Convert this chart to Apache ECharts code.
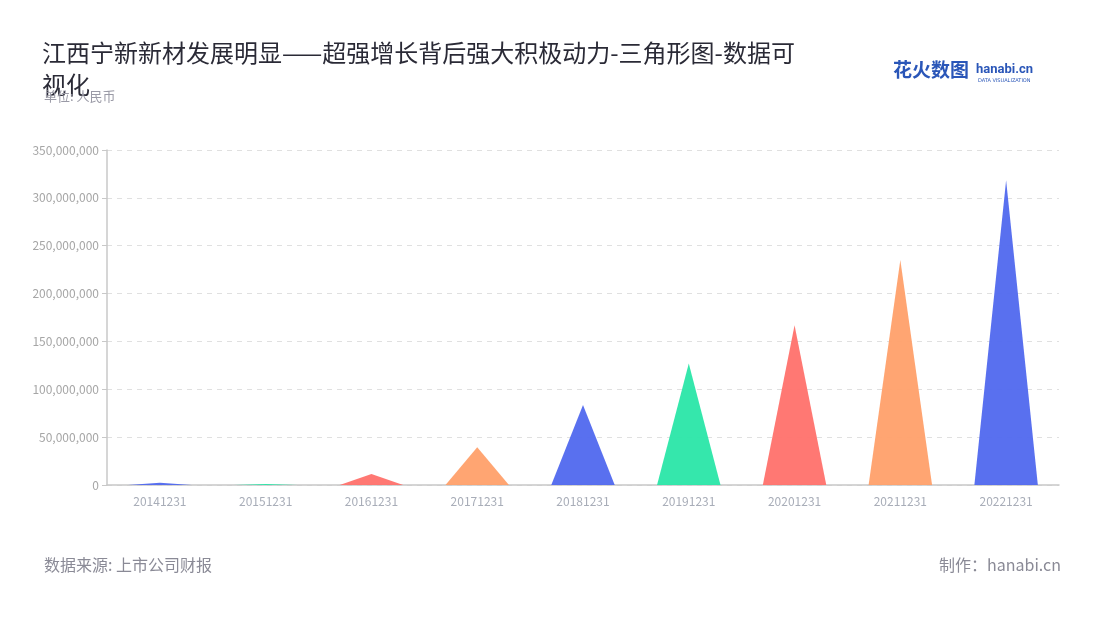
<!DOCTYPE html>
<html>
<head>
<meta charset="utf-8">
<script src="https://cdn.jsdelivr.net/npm/echarts@6/dist/echarts.min.js"></script>
<style>
html,body{margin:0;padding:0;background:#fff;}
#main{width:1100px;height:620px;}
</style>
</head>
<body>
<div id="main"></div>
<script>
const categories = ['20141231','20151231','20161231','20171231','20181231','20191231','20201231','20211231','20221231'];
const values = [2400000, 1000000, 11500000, 39400000, 83600000, 127000000, 167000000, 235000000, 318500000];
const colors = ['#5068ee','#2ae6a8','#ff716c','#ffa06a'];
const yTicks = { min: 0, max: 350000000, interval: 50000000 };

const chart = echarts.init(document.getElementById('main'));
const fontFamily = '"Noto Sans CJK SC","Noto Sans",sans-serif';
chart.setOption({
  animation: false,
  textStyle: { fontFamily },
  title: [{
    text: '江西宁新新材发展明显——超强增长背后强大积极动力-三角形图-数据可\n视化',
    left: 42, top: 37, padding: 0,
    textStyle: { fontSize: 24, fontWeight: 'normal', color: '#2a2a36', lineHeight: 32, fontFamily }
  }, {
    text: '单位: 人民币',
    left: 44, top: 90, padding: 0,
    textStyle: { fontSize: 13, fontWeight: 'normal', color: '#9a9aa6', fontFamily }
  }],
  grid: { left: 107, right: 41, top: 150, bottom: 135 },
  xAxis: {
    type: 'category',
    data: categories,
    axisLine: { lineStyle: { color: '#c8c8c8', width: 1.5 } },
    axisTick: { alignWithLabel: true, lineStyle: { color: '#c8c8c8' } },
    axisLabel: { color: '#a8adb8', fontSize: 12, margin: 10 }
  },
  yAxis: {
    type: 'value',
    min: yTicks.min, max: yTicks.max, interval: yTicks.interval,
    axisLine: { show: true, lineStyle: { color: '#c8c8c8', width: 1.5 } },
    axisTick: { show: true, length: 5, lineStyle: { color: '#c8c8c8' } },
    axisLabel: { color: '#a6a6a6', fontSize: 12, formatter: v => v.toLocaleString('en-US') },
    splitLine: { lineStyle: { color: '#e0e0e0', type: [5, 5] } }
  },
  series: [{
    type: 'pictorialBar',
    symbol: 'path://M0,10 L5,0 L10,10 Z',
    symbolSize: ['60%', '100%'],
    barCategoryGap: '0%',
    data: values.map((v, i) => ({ value: v, itemStyle: { color: colors[i % colors.length], opacity: 0.95 } }))
  }],
  graphic: [
    { type: 'text', left: 893, top: 60, style: { text: '花火数图', font: 'bold 19px "Noto Sans CJK SC"', fill: '#2a56b8' } },
    { type: 'text', left: 976, top: 63, style: { text: 'hanabi.cn', font: 'bold 13px Roboto', fill: '#2a56b8' } },
    { type: 'text', left: 978, top: 78, style: { text: 'DATA VISUALIZATION', font: '5px "DejaVu Sans"', fill: '#2a56b8' } },
    { type: 'text', left: 44, top: 557, style: { text: '数据来源: 上市公司财报', font: '16px "Noto Sans CJK SC"', fill: '#8a8a96' } },
    { type: 'text', right: 39, top: 557, style: { text: '制作：hanabi.cn', font: '16px "Noto Sans CJK SC"', fill: '#8a8a96' } }
  ]
});
</script>
</body>
</html>
